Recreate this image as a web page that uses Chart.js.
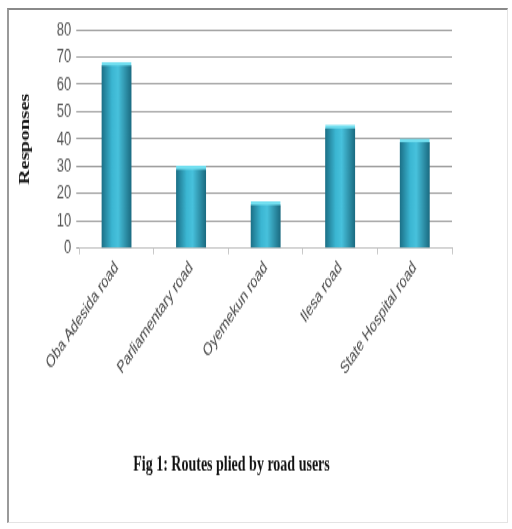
<!DOCTYPE html>
<html>
<head>
<meta charset="utf-8">
<script src="https://cdn.jsdelivr.net/npm/chart.js@4"></script>
<style>
  html, body { margin: 0; padding: 0; background: #fff; overflow: hidden; }
  #frame {
    position: absolute; left: 7px; top: 8px; width: 498px; height: 512px;
    border-top: 2px solid #8a8a8a; border-left: 2px solid #9a9a9a;
    border-right: 1px solid #e4e4e4; border-bottom: 1px solid #e4e4e4;
  }
  /* the source figure is stretched vertically, so draw short and stretch */
  #wrap { position: absolute; left: 0; top: 0; width: 512px; height: 357px;
          transform: scaleY(1.48); transform-origin: 0 0; }
</style>
</head>
<body>
<div id="frame"></div>
<div id="wrap"><canvas id="chart1" width="512" height="357"></canvas></div>
<script>
// data
const roads = ['Oba Adesida road', 'Parliamentary road', 'Oyemekun road', 'Ilesa road', 'State Hospital road'];
const responses = [68, 30, 17, 45, 40];
const yTicks = [0, 10, 20, 30, 40, 50, 60, 70, 80];

// horizontal shading across each bar, dark edges and light middle
function barFill(ctx) {
    const chart = ctx.chart;
    if (!chart.chartArea || !chart.scales.x) return '#2fa6c3';
    const cx = chart.scales.x.getPixelForValue(ctx.dataIndex);
    const g = chart.ctx.createLinearGradient(cx - 15, 0, cx + 15, 0);
    g.addColorStop(0, '#1b6f86');
    g.addColorStop(0.35, '#3bb6d2');
    g.addColorStop(0.55, '#47c1dc');
    g.addColorStop(1, '#1a6a80');
    return g;
}

new Chart(document.getElementById('chart1'), {
    type: 'bar',
    data: {
        labels: roads,
        datasets: [{
            label: 'Responses',
            data: responses,
            backgroundColor: barFill,
            borderColor: '#72dff0',
            borderWidth: { top: 2.5, left: 0, right: 0, bottom: 0 },
            borderSkipped: 'bottom',
            barThickness: 30
        }]
    },
    options: {
        responsive: false,
        animation: false,
        layout: { padding: { left: 11, right: 60, top: 20, bottom: 34 } },
        plugins: {
            legend: { display: false },
            tooltip: { enabled: false },
            title: {
                display: true,
                position: 'bottom',
                text: 'Fig 1: Routes plied by road users',
                color: '#111',
                font: { family: 'Liberation Serif', size: 14, weight: 'bold' },
                padding: { top: 48, bottom: 0 }
            }
        },
        scales: {
            x: {
                grid: { display: true, drawOnChartArea: false, color: '#c8c8c8', tickLength: 4 },
                border: { color: '#c0c0c0' },
                ticks: {
                    color: '#444',
                    font: { family: 'Liberation Sans', size: 12 },
                    minRotation: 45, maxRotation: 45, padding: 2
                }
            },
            y: {
                min: 0, max: 80,
                afterBuildTicks: axis => { axis.ticks = yTicks.map(v => ({ value: v })); },
                grid: { color: '#a0a0a0', tickLength: 3 },
                border: { display: false },
                ticks: {
                    autoSkip: false,
                    color: '#555',
                    font: { family: 'Liberation Sans', size: 13 },
                    padding: 5
                },
                title: {
                    display: true,
                    text: 'Responses',
                    color: '#111',
                    font: { family: 'Liberation Serif', size: 14, weight: 'bold' },
                    padding: { top: 6, bottom: 18 }
                }
            }
        }
    }
});
</script>
</body>
</html>
